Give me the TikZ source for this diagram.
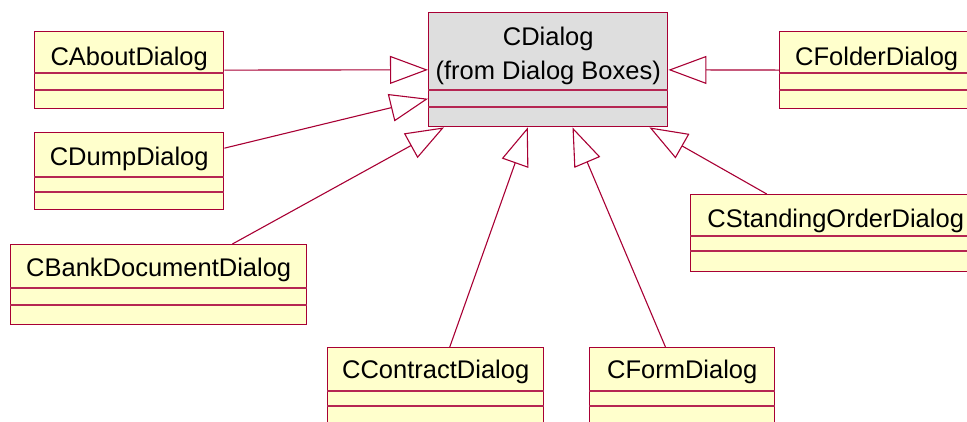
\documentclass[tikz,border=0pt]{standalone}
\usepackage{fontspec}
\setmainfont{Liberation Sans}
\usetikzlibrary{arrows.meta}
\definecolor{umlred}{RGB}{168,0,52}
\definecolor{umlyellow}{RGB}{255,255,204}
\definecolor{umlgray}{RGB}{222,222,222}
\tikzset{
  classbox/.style={draw=umlred, fill=umlyellow, line width=1.4pt, rectangle,
    inner sep=0pt, anchor=north west},
  basebox/.style={classbox, fill=umlgray},
  sepline/.style={draw=umlred!85, line width=1.1pt},
  lbl/.style={anchor=base, inner sep=0pt, font=\fontsize{25.5}{34}\selectfont},
  gen/.style={draw=umlred, line width=1.1pt,
    -{Triangle[open, length=38pt, width=28pt, line width=1.1pt]}},
}
\begin{document}
\begin{tikzpicture}[x=1pt, y=-1pt]
\useasboundingbox (0,0) rectangle (967,421);
\clip (0,0) rectangle (967,421);

% base class
\node[basebox, minimum width=239pt, minimum height=114pt] (cd) at (428,12) {};
\draw[sepline] ([yshift=-78pt]cd.north west) -- ([yshift=-78pt]cd.north east);
\draw[sepline] ([yshift=-95pt]cd.north west) -- ([yshift=-95pt]cd.north east);
\node[lbl] (cdt1) at ([yshift=-33pt]cd.north) {CDialog};
\node[lbl] (cdt2) at ([yshift=-67pt]cd.north) {(from Dialog Boxes)};

% derived classes
\node[classbox, minimum width=189pt, minimum height=77pt] (about) at (34,31) {};
\draw[sepline] ([yshift=-42pt]about.north west) -- ([yshift=-42pt]about.north east);
\draw[sepline] ([yshift=-59pt]about.north west) -- ([yshift=-59pt]about.north east);
\node[lbl] (aboutt) at ([yshift=-34pt]about.north) {CAboutDialog};

\node[classbox, minimum width=189pt, minimum height=77pt] (dump) at (34,132) {};
\draw[sepline] ([yshift=-45pt]dump.north west) -- ([yshift=-45pt]dump.north east);
\draw[sepline] ([yshift=-60pt]dump.north west) -- ([yshift=-60pt]dump.north east);
\node[lbl] (dumpt) at ([yshift=-33pt]dump.north) {CDumpDialog};

\node[classbox, minimum width=296pt, minimum height=80pt] (bank) at (10,244) {};
\draw[sepline] ([yshift=-44pt]bank.north west) -- ([yshift=-44pt]bank.north east);
\draw[sepline] ([yshift=-61pt]bank.north west) -- ([yshift=-61pt]bank.north east);
\node[lbl] (bankt) at ([yshift=-32pt]bank.north) {CBankDocumentDialog};

\node[classbox, minimum width=216pt, minimum height=78pt] (contract) at (327,347) {};
\draw[sepline] ([yshift=-44pt]contract.north west) -- ([yshift=-44pt]contract.north east);
\draw[sepline] ([yshift=-59pt]contract.north west) -- ([yshift=-59pt]contract.north east);
\node[lbl] (contractt) at ([yshift=-31pt]contract.north) {CContractDialog};

\node[classbox, minimum width=185pt, minimum height=78pt] (form) at (589,347) {};
\draw[sepline] ([yshift=-44pt]form.north west) -- ([yshift=-44pt]form.north east);
\draw[sepline] ([yshift=-59pt]form.north west) -- ([yshift=-59pt]form.north east);
\node[lbl] (formt) at ([yshift=-31pt]form.north) {CFormDialog};

\node[classbox, minimum width=290pt, minimum height=77pt] (standing) at (690,194) {};
\draw[sepline] ([yshift=-42pt]standing.north west) -- ([yshift=-42pt]standing.north east);
\draw[sepline] ([yshift=-57pt]standing.north west) -- ([yshift=-57pt]standing.north east);
\node[lbl] (standingt) at ([yshift=-33pt]standing.north) {CStandingOrderDialog};

\node[classbox, minimum width=194pt, minimum height=77pt] (folder) at (779,31) {};
\draw[sepline] ([yshift=-42pt]folder.north west) -- ([yshift=-42pt]folder.north east);
\draw[sepline] ([yshift=-59pt]folder.north west) -- ([yshift=-59pt]folder.north east);
\node[lbl] (foldert) at ([yshift=-34pt]folder.north) {CFolderDialog};

% generalisation connectors, centre to centre
\draw[gen] (about) -- (cd);
\draw[gen] (dump) -- (cd);
\draw[gen] (bank) -- (cd);
\draw[gen] (contract) -- (cd);
\draw[gen] (form) -- (cd);
\draw[gen] (standing) -- (cd);
\draw[gen] (folder) -- (cd);
\end{tikzpicture}
\end{document}
